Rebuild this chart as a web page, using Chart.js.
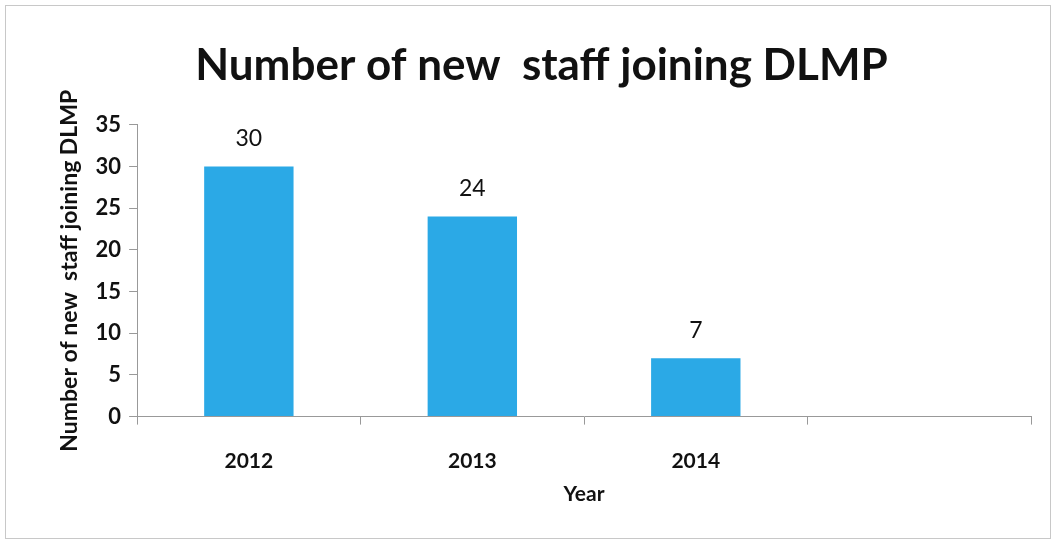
<!DOCTYPE html>
<html>
<head>
<meta charset="utf-8">
<script src="https://cdn.jsdelivr.net/npm/chart.js@4"></script>
<style>
    body { margin: 0; background: #fff; }
    #frame {
        position: absolute; left: 5px; top: 5px;
        width: 1046px; height: 534px;
        border: 1px solid #c8c8c8;
        box-sizing: border-box;
    }
    #wrap { position: absolute; left: 0; top: 0; width: 1058px; height: 545px; }
</style>
</head>
<body>
<div id="frame"></div>
<div id="wrap"><canvas id="chart"></canvas></div>
<script>
const years = ["2012", "2013", "2014", ""];
const new_staff = [30, 24, 7, null];
const y_ticks = [0, 5, 10, 15, 20, 25, 30, 35];

const font_name = "Lato, 'Open Sans', sans-serif";

// draws the value above each bar
const value_labels = {
    id: 'value_labels',
    afterDatasetsDraw(chart) {
        var ctx = chart.ctx;
        var meta = chart.getDatasetMeta(0);
        ctx.save();
        ctx.font = "23px " + font_name;
        ctx.fillStyle = "#111";
        ctx.textAlign = "center";
        ctx.textBaseline = "bottom";
        for (var i = 0; i < meta.data.length; i++) {
            var v = new_staff[i];
            if (v == null) continue;
            var bar = meta.data[i];
            ctx.fillText(v.toString(), bar.x, bar.y - 16);
        }
        ctx.restore();
    }
};

const config = {
    type: 'bar',
    data: {
        labels: years,
        datasets: [{
            data: new_staff,
            backgroundColor: '#2ba9e6',
            categoryPercentage: 1.0,
            barPercentage: 0.4,
        }],
    },
    options: {
        responsive: false,
        animation: false,
        layout: { padding: { left: 52, right: 27, top: 20, bottom: 34 } },
        plugins: {
            legend: { display: false },
            tooltip: { enabled: false },
            title: {
                display: true,
                text: 'Number of new  staff joining DLMP',
                color: '#111',
                font: { family: font_name, size: 44, weight: 'bold' },
                padding: { top: 19, bottom: 33 },
            },
        },
        scales: {
            x: {
                grid: {
                    offset: true,
                    drawOnChartArea: false,
                    color: '#999',
                    tickLength: 8,
                },
                border: { color: '#999' },
                ticks: {
                    color: '#111',
                    padding: 24,
                    font: { family: font_name, size: 21, weight: 'bold' },
                },
                title: {
                    display: true,
                    text: 'Year',
                    color: '#111',
                    font: { family: font_name, size: 21, weight: 'bold' },
                    padding: { top: -16 },
                },
            },
            y: {
                min: 0,
                max: 35,
                afterBuildTicks(axis) {
                    axis.ticks = y_ticks.map(v => ({ value: v }));
                },
                grid: {
                    drawOnChartArea: false,
                    color: '#999',
                    tickLength: 8,
                },
                border: { color: '#999' },
                ticks: {
                    color: '#111',
                    padding: 8,
                    font: { family: font_name, size: 22, weight: 'bold' },
                },
                title: {
                    display: true,
                    text: 'Number of new  staff joining DLMP',
                    color: '#111',
                    font: { family: font_name, size: 23, weight: 'bold' },
                    padding: { bottom: 4 },
                },
            },
        },
    },
    plugins: [value_labels],
};

var canvas = document.getElementById('chart');
canvas.width = 1058;
canvas.height = 545;
new Chart(canvas.getContext('2d'), config);
</script>
</body>
</html>
